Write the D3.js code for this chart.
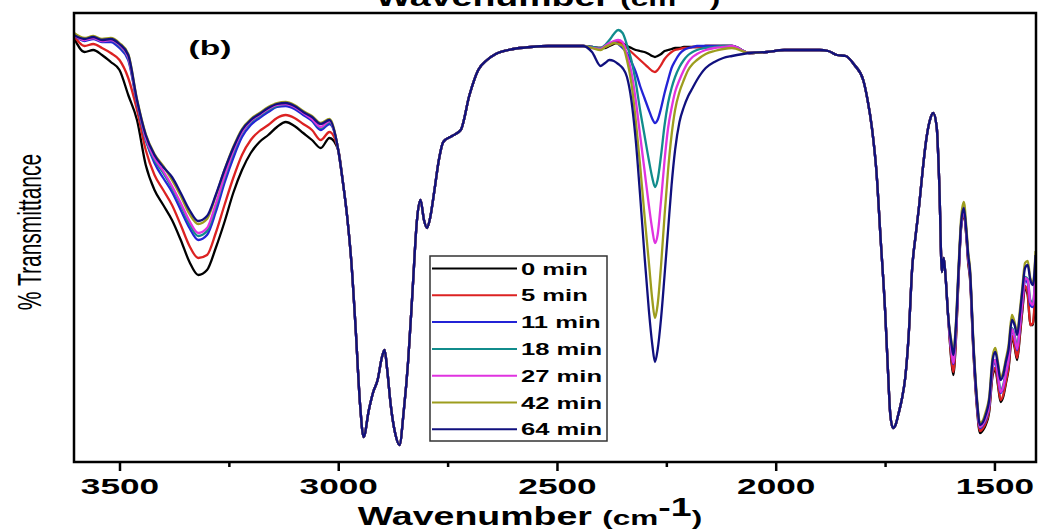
<!DOCTYPE html>
<html>
<head>
<meta charset="utf-8">
<script src="https://cdn.jsdelivr.net/npm/d3@7"></script>
<style>
  body { margin: 0; background: #fff; }
  text { font-family: "Liberation Sans", Arial, sans-serif; }
</style>
</head>
<body>
<svg id="chart" width="1038" height="531"></svg>
<script>
// FTIR spectra, panel (b) - transmittance in arbitrary % units

const minutes = ["0 min", "5 min", "11 min", "18 min", "27 min", "42 min", "64 min"];
const line_colors = ["#000000", "#dc2222", "#2323d6", "#118c8c", "#e033e0", "#9d9d1e", "#10107e"];

const major_ticks = [3500, 3000, 2500, 2000, 1500];
const minor_ticks = [3250, 2750, 2250, 1750];

// O-H / N-H band, differs between samples
const wn_oh = [3604,3580,3560,3540,3520,3500,3480,3460,3440,3420,3400,3380,3360,3340,3320,3300,3280,3260,3240,3220,3200,3180,3160,3140,3120,3100,3080,3060,3040,3020];
const oh_0  = [92.4,89.6,90,89,87.6,86,81,76,67,62,59,56,52,47.6,45,46,50.4,55.6,61.4,66,69.4,71.6,73,74.6,75.6,74.8,73.4,72,70.4,72.4];
const oh_5  = [92.8,90.8,91.2,90.4,89.4,88,84.4,78,70,65,62,59,55,50.8,48.4,49,53.4,59,64.4,69,72,73.8,75,76.4,77,76.4,75.2,74,72,73.6];
const oh_11 = [93,91.8,92.2,91.6,91.6,90.4,88,79.4,72,67.4,64.4,61.6,58,54.4,52,53,57.6,63.4,68.4,72.6,75,76.4,77.6,78.6,78.8,78.2,77,75.8,74,75.2];
const oh_18 = [93,92,92.4,91.8,92,90.8,88.4,79.6,72,68,65.4,62.4,59,55.2,52.8,53.8,58.6,64.4,69.4,73.4,75.6,76.8,78,78.8,79.2,78.6,77.4,76.2,74.4,75.6];
const oh_27 = [93,92,92.4,91.8,92,91,88.6,79.8,72.4,68.4,65.8,62.8,59.4,55.8,53.4,54.4,59.2,64.8,69.8,73.6,75.8,77,78.2,79,79.2,78.6,77.4,76.2,74.6,75.8];
const oh_42 = [93.4,92.4,92.8,92.2,92.4,91.4,89.2,80.2,73.2,69.2,66.8,64,60.8,57.2,55.2,56.2,60.8,66,70.6,74.2,76.2,77.4,78.6,79.4,79.6,79,77.8,76.8,75.4,76.2];
const oh_64 = [93,92.2,92.6,92,92.2,91.2,89,80,73,69,66.6,64.6,61.4,58,55.8,56.8,61,66,70.4,74,76,77.2,78.4,79.2,79.4,78.8,77.6,76.6,75.2,76];

// C-H stretch region, same for all samples
const wn_ch = [3000,2990,2980,2970,2960,2950,2942,2930,2920,2910,2900,2894,2888,2880,2870,2860,2850,2840,2830,2820,2812,2804,2797,2790,2780,2770,2760,2740,2720,2700,2680,2660,2640,2600,2560,2520,2480,2440];
const ch_band = [70,64,57,47.6,34,19,12.6,18,21.6,24,28.6,30,26,19,13.4,11,18,28,42,56,60,56,54.4,56.4,62,68,71.6,72.8,74,81,86,88,89.2,90.2,90.6,90.8,90.8,90.8];

// N=C=O band that grows with time
const wn_nco = [2420,2400,2390,2380,2370,2360,2350,2340,2330,2320,2310,2300,2290,2282,2276,2270,2262,2254,2246,2238,2230,2220,2210,2200,2190,2180,2160,2140,2120,2100];
const nco_0  = [90.6,90.4,90.4,90.8,91.2,91.6,91.4,90.8,90.4,90,89.8,89.6,89.2,88.8,88.6,88.8,89.2,89.8,90,90.2,90.4,90.4,90.6,90.6,90.6,90.6,90.8,90.8,90.8,90.8];
const nco_5  = [90.6,90.4,90.6,91,91.4,91.6,91.2,90.4,89.6,88.8,88,87.2,86.4,85.8,85.6,86,87,88.2,89,89.6,90,90.2,90.4,90.4,90.6,90.6,90.8,90.8,90.8,90.8];
const nco_11 = [90.6,90.2,90.8,91.2,91.6,91.2,90.4,89.4,87.6,85.6,82.8,80.4,78,76.2,75.4,76,78.4,81.4,84,86.4,87.8,89.2,90,90.4,90.6,90.8,90.8,90.8,90.8,90.8];
const nco_18 = [90.6,90.4,91,92,93.2,94,93.4,91,88,83.6,78,73,68,64.4,62.6,64,69,75,79.4,82.4,84.6,86.6,88,89,89.6,90,90.4,90.6,90.8,90.8];
const nco_27 = [90.4,90.2,90.8,91.4,91.8,92,91.6,89,85.6,80,73,66,59,54,51.4,53,60,68,74.4,78.4,81.6,84,86,87.6,88.6,89.2,90,90.4,90.6,90.8];
const nco_42 = [90.4,90,90.6,91,91.4,91.2,90.8,88,83.4,76,67,57,47.6,40,36.4,39,47,57,66,73,78,81.6,84,86,87.2,88,89.2,89.8,90.2,90.4];
const nco_64 = [89.6,86.8,87.4,88,87.8,87.2,86.4,84.6,80,72,61,49,38,31,27.6,30,36.4,45,54,63,70,75.6,78.6,80.8,82.4,84,86.4,87.6,88.4,88.8];

// carbonyl region, same for all samples
const wn_fp = [2060,2020,1980,1940,1900,1880,1860,1840,1820,1800,1790,1780,1770,1760,1750,1744,1738,1732,1726,1720,1712,1704,1696,1688,1680,1672,1664,1656,1648,1640,1632,1626,1620,1616,1612,1606];
const fp_band = [89.4,89.6,90,90,90,89.8,89,88.8,87,84,80,74.4,66,52,38,27,17,14.4,15,17,20,24.4,33,46.4,53,59,66,72,75.8,77.4,74.6,63,45.6,48.4,45,37];

// low wavenumber tail, small differences
const wn_tail = [1598,1594,1588,1582,1576,1570,1564,1560,1556,1548,1540,1533,1526,1520,1512,1504,1498,1492,1486,1480,1474,1468,1460,1454,1448,1442,1436,1430,1424,1418,1412,1406];
const tail_0  = [27.4,25,32,44.4,54.6,57.2,52.4,47.4,44.4,29.4,18.4,13.4,14,15,17.6,25,26,23,19.6,20.6,23.2,26,32.4,30.6,28,32.6,38,42.4,41,35,35,44];
const tail_5  = [28,25.6,32.4,44.6,54.8,57.4,52.6,47.8,44.8,29.8,18.8,13.8,14.4,15.4,18,25.4,26.4,23.4,20,21,23.6,26.4,32.8,31,28.4,33,38.4,42.8,41.4,35,35.4,44.6];
const tail_11 = [29.4,27.2,33.6,45.2,55,57.8,53,48.4,45.4,30.4,19.4,14.4,15,16,18.8,26.4,27.6,24.6,21.4,22.4,25,27.6,34,32.4,30,34.4,39.6,44,43.4,39,38.6,46];
const tail_18 = [29.8,27.6,34,45.4,55.2,58,53.2,48.6,45.6,30.6,19.6,14.6,15.2,16.2,19,26.8,28,25.2,22,23,25.6,28.2,34.4,33,30.6,35,40.2,44.6,44.2,40,39.4,46.6];
const tail_27 = [29.6,27.4,33.8,45.4,55.2,58,53.2,48.6,45.6,30.6,19.6,14.6,15.2,16.4,19,26.8,28,25,21.6,22.6,25.2,28,34.2,32.6,30.2,34.6,40,44.4,44,39.6,39,46.6];
const tail_42 = [31.6,29.6,35.6,46.8,56.6,59.6,54.4,49.6,46.6,31.6,20.6,15.4,16,17.6,20.6,28.8,30.4,27.6,24.6,25.6,28.2,30.8,37,35.6,33.6,37.8,42.8,47.4,47.8,44.4,43.4,49.8];
const tail_64 = [31,29,35,46,55.6,58.4,53.6,49,46,31,20,15,15.6,17,20,28,29.6,27,24,25,27.6,30,36,35,33,37,42,46.4,47,44,43,49];


const wn_all = wn_oh.concat(wn_ch, wn_nco, wn_fp, wn_tail);
const t_lists = [
  oh_0.concat(ch_band, nco_0, fp_band, tail_0),
  oh_5.concat(ch_band, nco_5, fp_band, tail_5),
  oh_11.concat(ch_band, nco_11, fp_band, tail_11),
  oh_18.concat(ch_band, nco_18, fp_band, tail_18),
  oh_27.concat(ch_band, nco_27, fp_band, tail_27),
  oh_42.concat(ch_band, nco_42, fp_band, tail_42),
  oh_64.concat(ch_band, nco_64, fp_band, tail_64)
];
const series = minutes.map((m, i) => ({
  name: m,
  color: line_colors[i],
  values: wn_all.map((w, j) => ({wn: w, t: t_lists[i][j]}))
}));

const svg = d3.select("#chart");
const frame = {left: 74, top: 13, right: 1036, bottom: 462};
const stretch = 1.6;

svg.append("rect").attr("width", 1038).attr("height", 531).style("fill", "#fff");

const x_scale = d3.scaleLinear()
    .domain([3604, 1405])
    .range([frame.left, frame.right]);

const y_scale = d3.scaleLinear()
    .domain([7.6, 100])
    .range([frame.bottom, 0]);

svg.append("clipPath").attr("id", "plot-clip")
  .append("rect")
    .attr("x", frame.left).attr("y", frame.top)
    .attr("width", frame.right - frame.left)
    .attr("height", frame.bottom - frame.top);

const line = d3.line()
    .x((d) => x_scale(d.wn))
    .y((d) => y_scale(d.t))
    .curve(d3.curveMonotoneX);

svg.append("g")
    .attr("clip-path", "url(#plot-clip)")
  .selectAll(".spectrum")
  .data(series)
  .enter()
  .append("path")
    .attr("class", "spectrum")
    .attr("d", (d) => line(d.values))
    .style("fill", "none")
    .style("stroke", (d) => d.color)
    .style("stroke-width", 2.3)
    .style("stroke-linejoin", "round");

// frame
svg.append("rect")
    .attr("x", frame.left).attr("y", frame.top)
    .attr("width", frame.right - frame.left)
    .attr("height", frame.bottom - frame.top)
    .style("fill", "none")
    .style("stroke", "#000")
    .style("stroke-width", 2.5);

// x axis
const x_axis = svg.append("g")
    .attr("transform", `translate(0, ${frame.bottom})`)
    .call(d3.axisBottom(x_scale).tickValues(major_ticks).tickSize(9).tickSizeOuter(0).tickFormat(d3.format("d")));

x_axis.select(".domain").remove();
x_axis.selectAll(".tick line").style("stroke-width", 2.5);
x_axis.selectAll(".tick text")
    .attr("y", 0).attr("dy", 0)
    .attr("transform", `translate(0, 32) scale(${stretch}, 1)`)
    .style("font-size", "22px")
    .style("font-weight", "bold")
    .style("fill", "#000");

const minor_axis = svg.append("g")
    .attr("transform", `translate(0, ${frame.bottom})`)
    .call(d3.axisBottom(x_scale).tickValues(minor_ticks).tickSize(5).tickSizeOuter(0).tickFormat(""));
minor_axis.select(".domain").remove();
minor_axis.selectAll(".tick line").style("stroke-width", 2.5);

// axis titles (the top one belongs to the panel above and is cut by the page edge)
const add_title = function(x, y, size){
  const t = svg.append("text")
      .attr("text-anchor", "middle")
      .attr("transform", `translate(${x}, ${y}) scale(1.5, 1)`)
      .style("font-weight", "bold")
      .style("font-size", size + "px");
  t.append("tspan").text("Wavenumber ");
  t.append("tspan").style("font-size", (size - 4) + "px").text("(cm");
  t.append("tspan").attr("dy", -9).text("-1");
  t.append("tspan").attr("dy", 9).style("font-size", (size - 4) + "px").text(")");
  return t;
}
add_title(530, 525, 25);
add_title(548, 6, 25);

svg.append("text")
    .attr("text-anchor", "middle")
    .attr("transform", `translate(41, 232) scale(${stretch}, 1) rotate(-90)`)
    .style("font-size", "21px")
    .text("% Transmittance");

svg.append("text")
    .attr("text-anchor", "middle")
    .attr("transform", `translate(210, 55) scale(${stretch}, 1)`)
    .style("font-size", "21px")
    .style("font-weight", "bold")
    .text("(b)");

// legend
const legend = svg.append("g").attr("transform", "translate(430, 256)");
legend.append("rect")
    .attr("width", 177).attr("height", 185)
    .style("fill", "#fff")
    .style("stroke", "#333")
    .style("stroke-width", 1.5);

const items = legend.selectAll(".item")
  .data(series)
  .enter()
  .append("g")
    .attr("class", "item")
    .attr("transform", (d, i) => `translate(0, ${12.5 + i * 26.8})`);

items.append("line")
    .attr("x1", 2).attr("x2", 87)
    .style("stroke", (d) => d.color)
    .style("stroke-width", 2);

items.append("text")
    .attr("transform", `translate(91, 6) scale(${stretch}, 1)`)
    .style("font-size", "16px")
    .style("font-weight", "bold")
    .text((d) => d.name);
</script>
</body>
</html>
